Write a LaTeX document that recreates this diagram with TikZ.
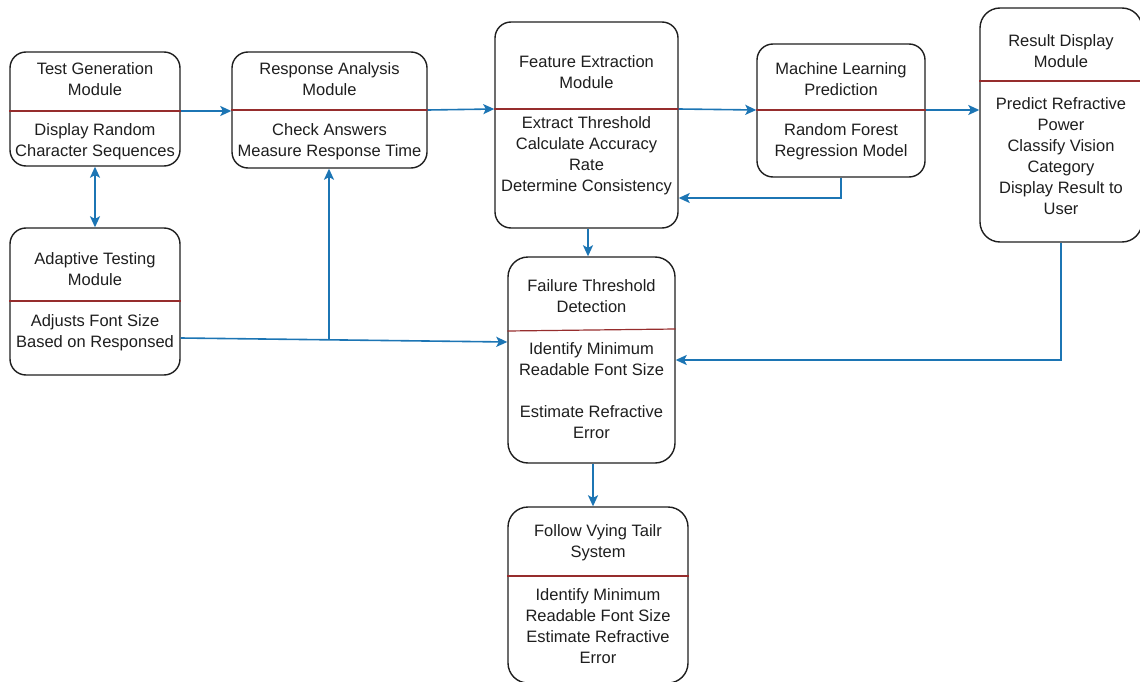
\documentclass[tikz,border=0pt]{standalone}
\usepackage{fontspec}
\setmainfont{Liberation Sans}
\usetikzlibrary{arrows.meta,calc}
\definecolor{flow}{RGB}{28,117,180}
\definecolor{divcol}{RGB}{150,45,45}
\definecolor{ink}{RGB}{30,30,30}
\tikzset{
  modbox/.style={draw=ink, line width=1.4pt, rounded corners=16pt, inner sep=0pt},
  divider/.style={draw=divcol, line width=1.2pt},
  label/.style={align=center, text=ink, font=\fontsize{16.5}{21}\selectfont, inner sep=0pt},
  tip/.style={},
  conn/.style={draw=flow, line width=1.6pt, -{Stealth[length=11pt,width=10pt,inset=2.5pt]}},
  bconn/.style={draw=flow, line width=1.6pt, {Stealth[length=11pt,width=10pt,inset=2.5pt]}-{Stealth[length=11pt,width=10pt,inset=2.5pt]}}
}
\begin{document}
\begin{tikzpicture}[x=1pt,y=-1pt]
\useasboundingbox (0,0) rectangle (1140,682);
% boxes
\node[modbox, minimum width=170pt, minimum height=114pt] (tg) at (95,109) {};
\node[modbox, minimum width=195pt, minimum height=116pt] (ra) at (329.5,110) {};
\node[modbox, minimum width=183pt, minimum height=206pt] (fe) at (586.5,125) {};
\node[modbox, minimum width=168pt, minimum height=133pt] (ml) at (841,110.5) {};
\node[modbox, minimum width=162pt, minimum height=234pt, rounded corners=20pt] (rd) at (1061,125) {};
\node[modbox, minimum width=170pt, minimum height=147pt] (at) at (95,301.5) {};
\node[modbox, minimum width=167pt, minimum height=206pt, rounded corners=20pt] (ft) at (591.5,360) {};
\node[modbox, minimum width=180pt, minimum height=176pt, rounded corners=20pt] (fv) at (598,595) {};
% dividers
\draw[divider] (tg.west |- 0,111) -- (tg.east |- 0,111);
\draw[divider] (ra.west |- 0,110) -- (ra.east |- 0,110);
\draw[divider] (fe.west |- 0,109) -- (fe.east |- 0,109);
\draw[divider] (ml.west |- 0,110) -- (ml.east |- 0,110);
\draw[divider] (rd.west |- 0,81) -- (rd.east |- 0,81);
\draw[divider] (at.west |- 0,301) -- (at.east |- 0,301);
\draw[divider] (ft.west |- 0,331) -- (ft.east |- 0,329);
\draw[divider] (fv.west |- 0,576) -- (fv.east |- 0,576);
% texts
\node[label] (tgT) at (95,79.5) {Test Generation\\Module};
\node[label] (tgB) at (95,141.5) {Display Random\\Character Sequences};
\node[label] (raT) at (329.5,79.5) {Response Analysis\\Module};
\node[label] (raB) at (329.5,141.5) {Check Answers\\Measure Response Time};
\node[label] (feT) at (586.5,72) {Feature Extraction\\Module};
\node[label] (feB) at (586.5,156) {Extract Threshold\\Calculate Accuracy\\Rate\\Determine Consistency};
\node[label] (mlT) at (841,79) {Machine Learning\\Prediction};
\node[label] (mlB) at (841,141.5) {Random Forest\\Regression Model};
\node[label] (rdT) at (1061,51) {Result Display\\Module};
\node[label] (rdB) at (1061,156.5) {Predict Refractive\\Power\\Classify Vision\\Category\\Display Result to\\User};
\node[label] (atT) at (95,269.5) {Adaptive Testing\\Module};
\node[label] (atB) at (95,332.5) {Adjusts Font Size\\Based on Responsed};
\node[label] (ftT) at (591.5,296.5) {Failure Threshold\\Detection};
\node[label] (ftB) at (591.5,391) {Identify Minimum\\Readable Font Size\\[21pt]Estimate Refractive\\Error};
\node[label] (fvT) at (598,542.5) {Follow Vying Tailr\\System};
\node[label] (fvB) at (598,626) {Identify Minimum\\Readable Font Size\\Estimate Refractive\\Error};
% connectors
\draw[conn] (tg.east |- 0,111) -- (ra.west |- 0,111);
\draw[conn] (ra.east |- 0,110) -- (fe.west |- 0,109);
\draw[conn] (fe.east |- 0,109) -- (ml.west |- 0,110);
\draw[conn] (ml.east |- 0,110) -- (rd.west |- 0,110);
\draw[conn] (ml.south) -- (ml.south |- 0,198) -- (fe.east |- 0,198);
\draw[bconn] (tg.south) -- (at.north);
\coordinate (aEnd) at (ft.west |- 0,342);
\coordinate (br) at (329,339);
\draw[conn] (at.east |- 0,338) -- (aEnd);
\draw[conn] (br) -- (ra.south -| br);
\draw[conn] (fe.south -| 588,0) -- (ft.north -| 588,0);
\draw[conn] (rd.south) -- (rd.south |- 0,360) -- (ft.east |- 0,360);
\draw[conn] (ft.south -| 593,0) -- (fv.north -| 593,0);
\end{tikzpicture}
\end{document}
